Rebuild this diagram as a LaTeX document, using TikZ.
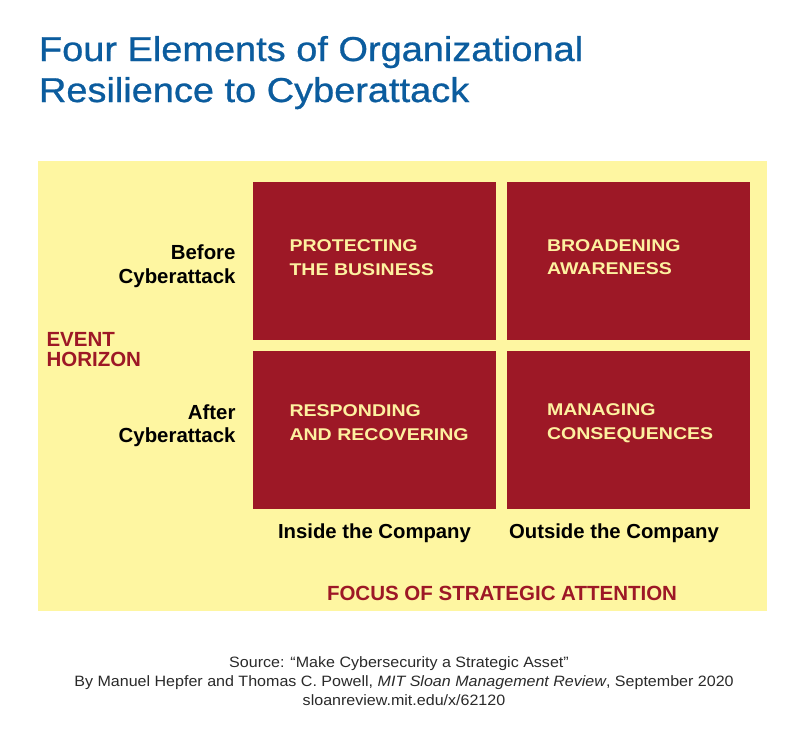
\documentclass[tikz,border=0pt]{standalone}
\usepackage{fontspec}
\setmainfont{Liberation Sans}
\newfontfamily\titlefont{Liberation Sans}[FakeStretch=1.1, FakeBold=0.8]
\newfontfamily\boxfont{Liberation Sans}[FakeStretch=1.15]
\newfontfamily\footfont{Liberation Sans}[FakeStretch=1.07]
\definecolor{ttlblue}{HTML}{0B5C9E}
\definecolor{bgyellow}{HTML}{FEF6A1}
\definecolor{boxred}{HTML}{9D1826}
\definecolor{boxtext}{HTML}{FDF1A0}
\definecolor{foot}{HTML}{2A2A2A}
\begin{document}
\begin{tikzpicture}[x=1pt,y=-1pt,
  every node/.style={inner sep=0pt, outer sep=0pt},
  titletext/.style={anchor=base west, text=ttlblue, font=\titlefont\fontsize{34.5}{34.5}\selectfont},
  quad/.style={fill=boxred, draw=none, anchor=north west, minimum width=243pt, minimum height=158pt},
  quadtext/.style={anchor=base west, text=boxtext, font=\boxfont\bfseries\fontsize{17}{17}\selectfont},
  rowlabel/.style={anchor=base east, text=black, font=\bfseries\fontsize{20.4}{20.4}\selectfont},
  collabel/.style={anchor=base, text=black, font=\bfseries\fontsize{20.3}{20.3}\selectfont},
  axislabel/.style={text=boxred, font=\bfseries\fontsize{20.5}{20.5}\selectfont},
  foottext/.style={anchor=base, text=foot, font=\footfont\fontsize{15}{15}\selectfont}]
\fill[white] (0,0) rectangle (800,736);
\useasboundingbox (0,0) rectangle (800,736);
% title
\node[titletext] (t1) at (39,61) {Four Elements of Organizational};
\node[titletext] (t2) at (39,102) {Resilience to Cyberattack};
% background panel
\fill[bgyellow] (38,161) rectangle (767,611);
% quadrants
\node[quad] (q1) at (253,182) {};
\node[quad] (q2) at (507,182) {};
\node[quad] (q3) at (253,351) {};
\node[quad] (q4) at (507,351) {};
% quadrant texts
\node[quadtext] (q1a) at (289.5,251.5) {PROTECTING};
\node[quadtext] (q1b) at (289.5,275) {THE BUSINESS};
\node[quadtext] (q2a) at (547,251) {BROADENING};
\node[quadtext] (q2b) at (547,274.5) {AWARENESS};
\node[quadtext] (q3a) at (289.5,416) {RESPONDING};
\node[quadtext] (q3b) at (289.5,440.5) {AND RECOVERING};
\node[quadtext] (q4a) at (547,415.5) {MANAGING};
\node[quadtext] (q4b) at (547,439.5) {CONSEQUENCES};
% row labels
\node[rowlabel] (r1a) at (235.5,259) {Before};
\node[rowlabel] (r1b) at (235.5,283) {Cyberattack};
\node[rowlabel] (r2a) at (235.5,419) {After};
\node[rowlabel] (r2b) at (235.5,442) {Cyberattack};
% axis label left
\node[axislabel, anchor=base west] (e1) at (46.5,346) {EVENT};
\node[axislabel, anchor=base west] (e2) at (46.5,366.5) {HORIZON};
% column labels
\node[collabel] (c1) at (374.5,538) {Inside the Company};
\node[collabel] (c2) at (614,538) {Outside the Company};
% axis label bottom
\node[axislabel, anchor=base] (f1) at (502,600) {FOCUS OF STRATEGIC ATTENTION};
% footer
\node[foottext] (s1) at (399,667) {Source: “Make Cybersecurity a Strategic Asset”};
\node[foottext] (s2) at (404,686) {By Manuel Hepfer and Thomas C. Powell, \textit{MIT Sloan Management Review}, September 2020};
\node[foottext] (s3) at (404,705) {sloanreview.mit.edu/x/62120};
\end{tikzpicture}
\end{document}
